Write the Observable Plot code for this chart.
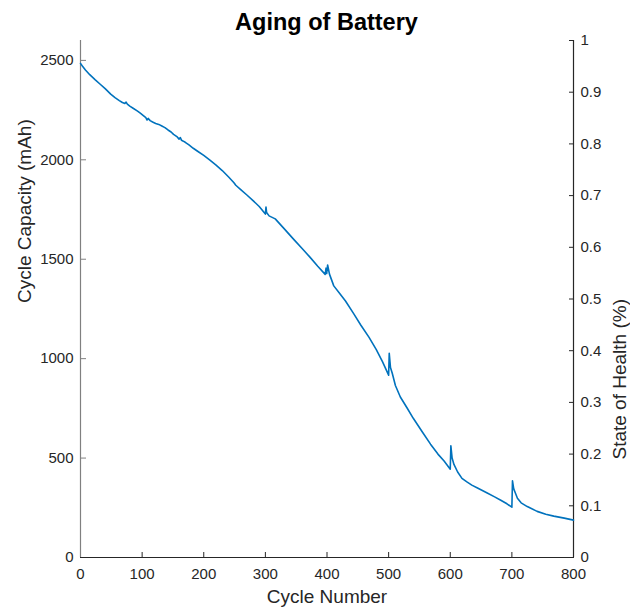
<!DOCTYPE html>
<html>
<head>
<meta charset="utf-8">
<script src="https://cdn.jsdelivr.net/npm/d3@7"></script>
<script src="https://cdn.jsdelivr.net/npm/@observablehq/plot@0.6"></script>
<style>
  body { margin: 0; background: #fff; font-family: "Liberation Sans", Arial, sans-serif; }
  #title { height: 30px; box-sizing: border-box; padding-top: 7px; margin-left: 80px; width: 493px;
           text-align: center; font-weight: bold; font-size: 23.5px; line-height: 30px; color: #000; overflow: visible; white-space: nowrap; }
</style>
</head>
<body>
<div id="title">Aging of Battery</div>
<div id="chart"></div>
<script>
const cycles = [0,3,8,15,24,32,40,49,56,63,68,72,74,76,80,86,92,97,102,106,108,110,113,117,122,127,132,137,142,147,151,154,157,160,162,164,166,170,176,183,190,200,210,220,230,240,249,252,260,270,280,290,300,301,302,306,316,330,346,360,373,385,397,398.5,399.5,401,404,411,420,430,443,455,468,480,490,500,501,503,506,511,519,530,540,555,568,580,590,600,601,603,606,612,619,627,635,645,660,672,682,692,700,701,703,706,709,715,725,741,755,768,785,800];
const capacity = [2485,2472,2452,2428,2402,2380,2358,2330,2313,2298,2288,2283,2290,2280,2270,2258,2246,2235,2222,2212,2200,2208,2197,2190,2183,2178,2170,2162,2150,2140,2128,2122,2115,2104,2112,2098,2095,2088,2075,2058,2043,2022,1998,1973,1946,1915,1885,1872,1850,1823,1795,1765,1727,1762,1735,1718,1703,1655,1600,1553,1508,1465,1424,1455,1428,1471,1425,1366,1330,1290,1228,1168,1108,1045,985,917,1027,955,925,865,807,752,700,630,570,520,485,444,562,500,468,430,398,380,364,348,324,305,288,270,253,386,345,322,298,275,256,232,218,208,198,188];
const xTicks = [0,100,200,300,400,500,600,700,800];
const capTicks = [0,500,1000,1500,2000,2500];
const sohTicks = [0,0.1,0.2,0.3,0.4,0.5,0.6,0.7,0.8,0.9,1];
const xMax = 800;
const capMax = 2600;

const data = cycles.map((c, i) => ({cycle: c, cap: capacity[i]}));
const ink = "#262626";

const chart = Plot.plot({
  width: 630,
  height: 583,
  marginTop: 10,
  marginBottom: 56,
  marginLeft: 80,
  marginRight: 57,
  style: {fontFamily: "'Liberation Sans', Arial, sans-serif", fontSize: "15px", color: ink, background: "#fff"},
  x: {domain: [0, xMax]},
  y: {domain: [0, capMax]},
  marks: [
    Plot.axisX({ticks: xTicks, tickSize: -5, tickPadding: 16, stroke: ink, fill: ink, label: null, tickFormat: d => String(d)}),
    Plot.axisY({anchor: "left", ticks: capTicks, tickSize: -6, tickPadding: 13, stroke: "#808080", fill: ink, label: null, tickFormat: d => String(d)}),
    Plot.axisY({anchor: "right", ticks: sohTicks.map(v => v * capMax), tickSize: -5, tickPadding: 12, stroke: ink, fill: ink, label: null,
      tickFormat: d => String(Math.round(d / capMax * 10) / 10)}),
    Plot.ruleX([0], {stroke: "#808080", strokeWidth: 1.2}),
    Plot.ruleX([xMax], {stroke: ink, strokeWidth: 1.2}),
    Plot.ruleY([0], {stroke: ink, strokeWidth: 1.2}),
    Plot.line(data, {x: "cycle", y: "cap", stroke: "#0072BD", strokeWidth: 1.6}),
    Plot.text(["Cycle Number"], {frameAnchor: "bottom", dy: 45, fontSize: 19, fill: ink}),
    Plot.text(["Cycle Capacity (mAh)"], {frameAnchor: "left", dx: -56, dy: 4, rotate: -90, fontSize: 19, fill: ink}),
    Plot.text(["State of Health (%)"], {frameAnchor: "right", dx: 46, rotate: -90, fontSize: 19, fill: ink})
  ]
});
document.getElementById("chart").appendChild(chart);
</script>
</body>
</html>
